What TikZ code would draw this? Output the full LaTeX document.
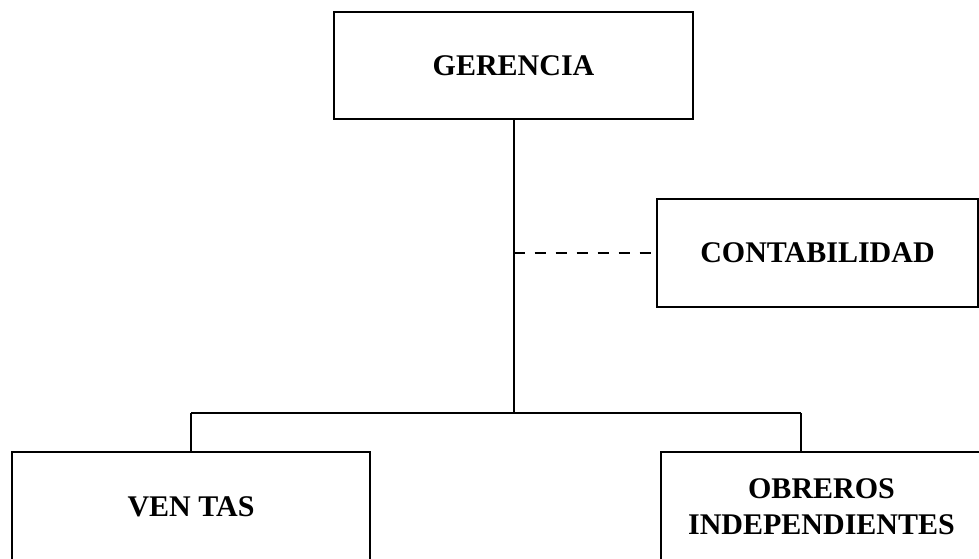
\documentclass[tikz,border=0pt]{standalone}
\usepackage{fontspec}
\setmainfont{Liberation Serif}
\begin{document}
\begin{tikzpicture}[x=1pt,y=-1pt,
  unit/.style={draw, line width=2pt, rectangle, inner sep=0pt, outer sep=0pt,
    font=\bfseries\fontsize{30}{36}\selectfont, align=center},
  link/.style={line width=2pt}]
\useasboundingbox (0,0) rectangle (979,558);
\clip (0,0) rectangle (979,558);
\node[unit, minimum width=359pt, minimum height=107pt] (ger) at (513.5,65.5) {GERENCIA};
\node[unit, minimum width=321pt, minimum height=108pt] (cont) at (817.5,253) {CONTABILIDAD};
\node[unit, minimum width=358pt, minimum height=110pt] (ven) at (191,507) {VEN TAS};
\node[unit, minimum width=321pt, minimum height=110pt] (obr) at (821.5,507) {OBREROS\\INDEPENDIENTES};
\coordinate (j) at (513.5,413);
\coordinate (l) at (191,413);
\coordinate (r) at (801,413);
\draw[link] (ger.south) -- (j);
\draw[link] (l) -- (r);
\draw[link] (l) -- (ven.north);
\draw[link] (r) -- (r |- obr.north);
\draw[link, dash pattern=on 11pt off 10pt] (ger.south |- cont.west) -- (cont.west);
\end{tikzpicture}
\end{document}
